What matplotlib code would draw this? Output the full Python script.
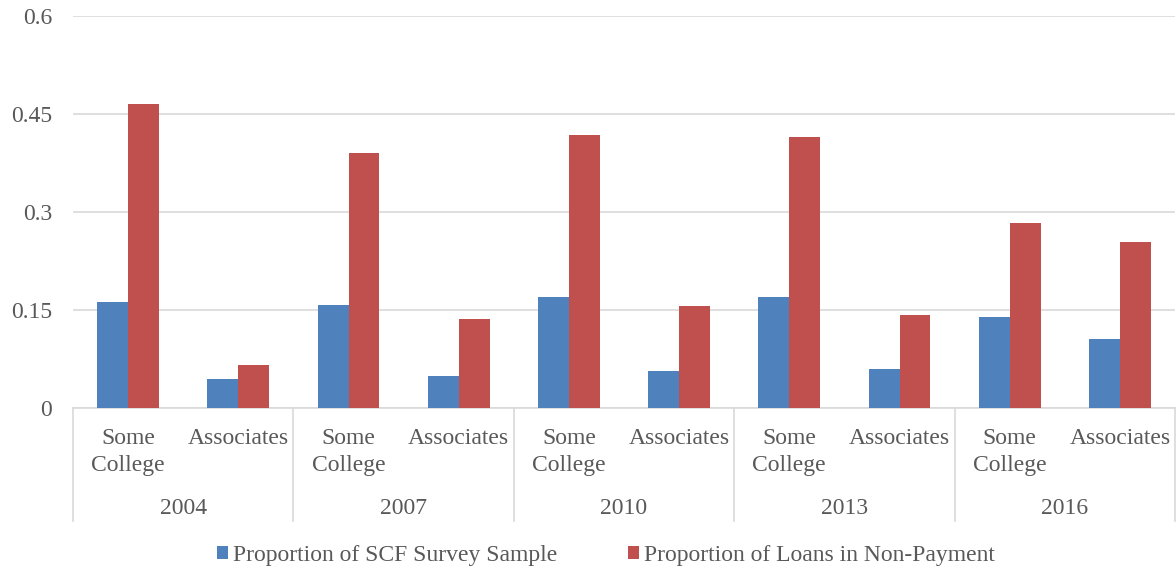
import matplotlib
matplotlib.use("Agg")
import matplotlib.pyplot as plt
import matplotlib.transforms as mtransforms
import numpy as np

years = ["2004", "2007", "2010", "2013", "2016"]
levels = ["Some\nCollege", "Associates"]
survey_share = [0.162, 0.044, 0.158, 0.049, 0.170, 0.057, 0.170, 0.060, 0.139, 0.106]
nonpay_share = [0.465, 0.066, 0.390, 0.136, 0.418, 0.156, 0.415, 0.142, 0.283, 0.254]
yticks = [0, 0.15, 0.3, 0.45, 0.6]
ytick_labels = ["0", "0.15", "0.3", "0.45", "0.6"]
series_names = ["Proportion of SCF Survey Sample", "Proportion of Loans in Non-Payment"]

BLUE = "#4F81BD"
RED = "#C0504D"
TXT = "#595959"
GRID = "#D9D9D9"
FS = 17

plt.rcParams["font.family"] = ["Liberation Serif", "DejaVu Serif"]

fig = plt.figure(figsize=(11.76, 5.73), dpi=100)
ax = fig.add_axes([73 / 1176, 1 - 408 / 573, (1175 - 73) / 1176, (408 - 16) / 573])

n = len(survey_share)
x = np.arange(n)
w = 0.28
ax.bar(x - w / 2, survey_share, w, color=BLUE, label=series_names[0], zorder=3)
ax.bar(x + w / 2, nonpay_share, w, color=RED, label=series_names[1], zorder=3)

ax.set_xlim(-0.5, n - 0.5)
ax.set_ylim(0, 0.6)
ax.set_yticks(yticks)
ax.set_yticklabels(ytick_labels)
ax.tick_params(axis="y", length=0, pad=15, labelsize=FS, labelcolor=TXT)
ax.set_xticks([])
ax.yaxis.grid(True, color=GRID, linewidth=1.2, zorder=0)
for s in ["top", "right", "left"]:
    ax.spines[s].set_visible(False)
ax.spines["bottom"].set_color(GRID)
ax.spines["bottom"].set_linewidth(1.2)

trans = mtransforms.blended_transform_factory(ax.transData, ax.transAxes)
ph = (408 - 16)  # axes height in px

def ay(py):
    return (408 - py) / ph

for i in range(n):
    for k, line in enumerate(levels[i % 2].split("\n")):
        ax.text(x[i], ay(438 + 28 * k), line, transform=trans, ha="center", va="center",
                fontsize=FS, color=TXT)
for g, yr in enumerate(years):
    ax.text(2 * g + 0.5, ay(508), yr, transform=trans, ha="center", va="center",
            fontsize=FS, color=TXT)
for b in range(len(years) + 1):
    xb = 2 * b - 0.5
    ax.plot([xb, xb], [0, ay(521)], transform=trans, color=GRID, linewidth=1.2,
            clip_on=False)

leg = fig.legend(loc="center", bbox_to_anchor=(606 / 1176, 1 - 555 / 573), ncol=2,
                 frameon=False, fontsize=FS, handlelength=0.47, handleheight=0.47,
                 handletextpad=0.2, columnspacing=3.0)
for t in leg.get_texts():
    t.set_color(TXT)

fig.savefig("out.png", dpi=100)
